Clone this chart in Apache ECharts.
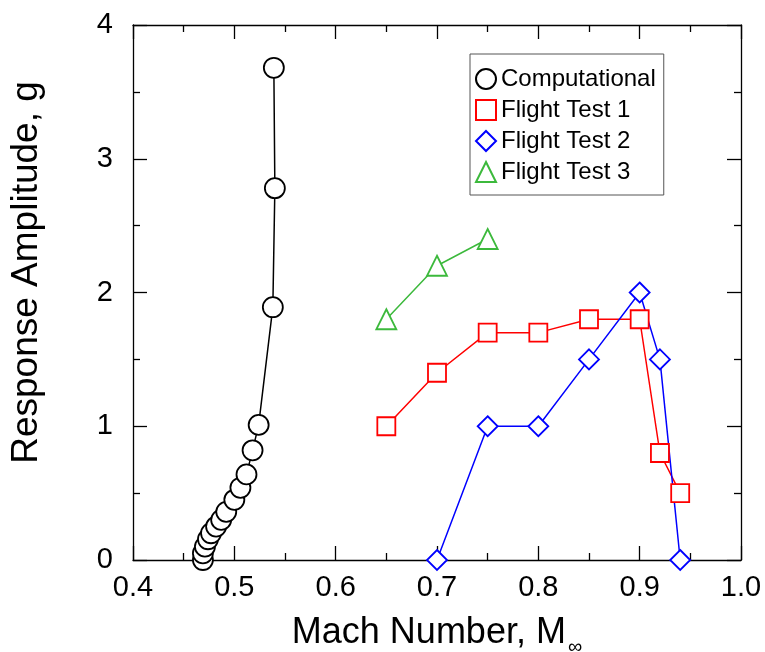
<!DOCTYPE html>
<html>
<head>
<meta charset="utf-8">
<script src="https://cdn.jsdelivr.net/npm/echarts@6/dist/echarts.min.js"></script>
<style>
  html, body { margin: 0; padding: 0; background: #fff; }
  #dom { width: 765px; height: 652px; }
</style>
</head>
<body>
<div id="dom"></div>
<script>
// Computational: [Mach, amplitude]
const computational = [
    [0.469, 0.0], [0.469, 0.05], [0.471, 0.10], [0.474, 0.155], [0.477, 0.20],
    [0.482, 0.25], [0.487, 0.30], [0.492, 0.36], [0.500, 0.45], [0.506, 0.54],
    [0.512, 0.64], [0.518, 0.82], [0.524, 1.01], [0.538, 1.89], [0.540, 2.78],
    [0.539, 3.68]
]
const flightTest1 = [
    [0.65, 1.0], [0.70, 1.4], [0.75, 1.7], [0.80, 1.7], [0.85, 1.8],
    [0.90, 1.8], [0.92, 0.8], [0.94, 0.5]
]
const flightTest2 = [
    [0.70, 0.0], [0.75, 1.0], [0.80, 1.0], [0.85, 1.5], [0.90, 2.0],
    [0.92, 1.5], [0.94, 0.0]
]
const flightTest3 = [
    [0.65, 1.8], [0.70, 2.2], [0.75, 2.4]
]
const seriesNames = ['Computational', 'Flight Test 1', 'Flight Test 2', 'Flight Test 3']

const font = 'Liberation Sans, Arial, sans-serif'

// fresh objects for every axis
const tickStyle = () => ({
    axisLine: { show: true, onZero: false, lineStyle: { color: '#000', width: 1.3 } },
    axisTick: { show: true, inside: true, length: 14, lineStyle: { color: '#000', width: 1.3 } },
    minorTick: { show: true, splitNumber: 2, length: 7, lineStyle: { color: '#000', width: 1.3 } },
    splitLine: { show: false }
})

const makeSeries = (name, data, symbol, color, size) => ({
    name: name,
    type: 'line',
    data: data,
    symbol: symbol,
    symbolSize: size,
    showAllSymbol: true,
    color: color,
    lineStyle: { color: color, width: 1.5 },
    itemStyle: { color: '#fff', borderColor: color, borderWidth: 1.8 },
    emphasis: { disabled: true }
})

const option = {
    animation: false,
    backgroundColor: '#fff',
    grid: { left: 133, right: 24, top: 25, bottom: 92, outerBoundsMode: 'none', containLabel: false },
    legend: {
        orient: 'vertical',
        left: 470,
        top: 54,
        padding: [13, 8, 11, 5],
        itemGap: 7,
        itemWidth: 20,
        itemHeight: 20,
        borderColor: '#555',
        borderWidth: 1,
        textStyle: { fontFamily: font, fontSize: 24, color: '#000' },
        data: [
            { name: seriesNames[0], icon: 'emptyCircle', itemStyle: { color: '#000' } },
            { name: seriesNames[1], icon: 'emptyRect', itemStyle: { color: '#ff0000' } },
            { name: seriesNames[2], icon: 'emptyDiamond', itemStyle: { color: '#0000ff' } },
            { name: seriesNames[3], icon: 'emptyTriangle', itemStyle: { color: '#3cb93c' } }
        ]
    },
    xAxis: [
        Object.assign({
            type: 'value',
            position: 'bottom',
            min: 0.4,
            max: 1.0,
            interval: 0.1,
            name: '{m|Mach Number, M}{s|∞}',
            nameLocation: 'middle',
            nameGap: 55,
            nameTextStyle: {
                rich: {
                    m: { fontFamily: font, fontSize: 36, lineHeight: 36, color: '#000', verticalAlign: 'top' },
                    s: { fontFamily: font, fontSize: 20, lineHeight: 20, color: '#000', verticalAlign: 'top', padding: [22, 0, 0, 2] }
                }
            },
            axisLabel: {
                fontFamily: font, fontSize: 29, color: '#000', margin: 13,
                formatter: v => v.toFixed(1)
            }
        }, tickStyle()),
        Object.assign({
            type: 'value',
            position: 'top',
            min: 0.4,
            max: 1.0,
            interval: 0.1,
            axisLabel: { show: false }
        }, tickStyle())
    ],
    yAxis: [
        Object.assign({
            type: 'value',
            position: 'left',
            min: 0,
            max: 4,
            interval: 1,
            name: 'Response Amplitude, g',
            nameLocation: 'middle',
            nameGap: 88,
            nameTextStyle: { fontFamily: font, fontSize: 37, color: '#000', padding: [0, 0, 0, 40] },
            axisLabel: { fontFamily: font, fontSize: 29, color: '#000', margin: 20 }
        }, tickStyle()),
        Object.assign({
            type: 'value',
            position: 'right',
            min: 0,
            max: 4,
            interval: 1,
            axisLabel: { show: false }
        }, tickStyle())
    ],
    series: [
        makeSeries(seriesNames[0], computational, 'circle', '#000', 20),
        makeSeries(seriesNames[1], flightTest1, 'rect', '#ff0000', 18),
        makeSeries(seriesNames[2], flightTest2, 'diamond', '#0000ff', 20),
        makeSeries(seriesNames[3], flightTest3, 'triangle', '#3cb93c', 20)
    ]
}

let myChart = echarts.init(document.getElementById('dom'))
myChart.setOption(option, true)
</script>
</body>
</html>
